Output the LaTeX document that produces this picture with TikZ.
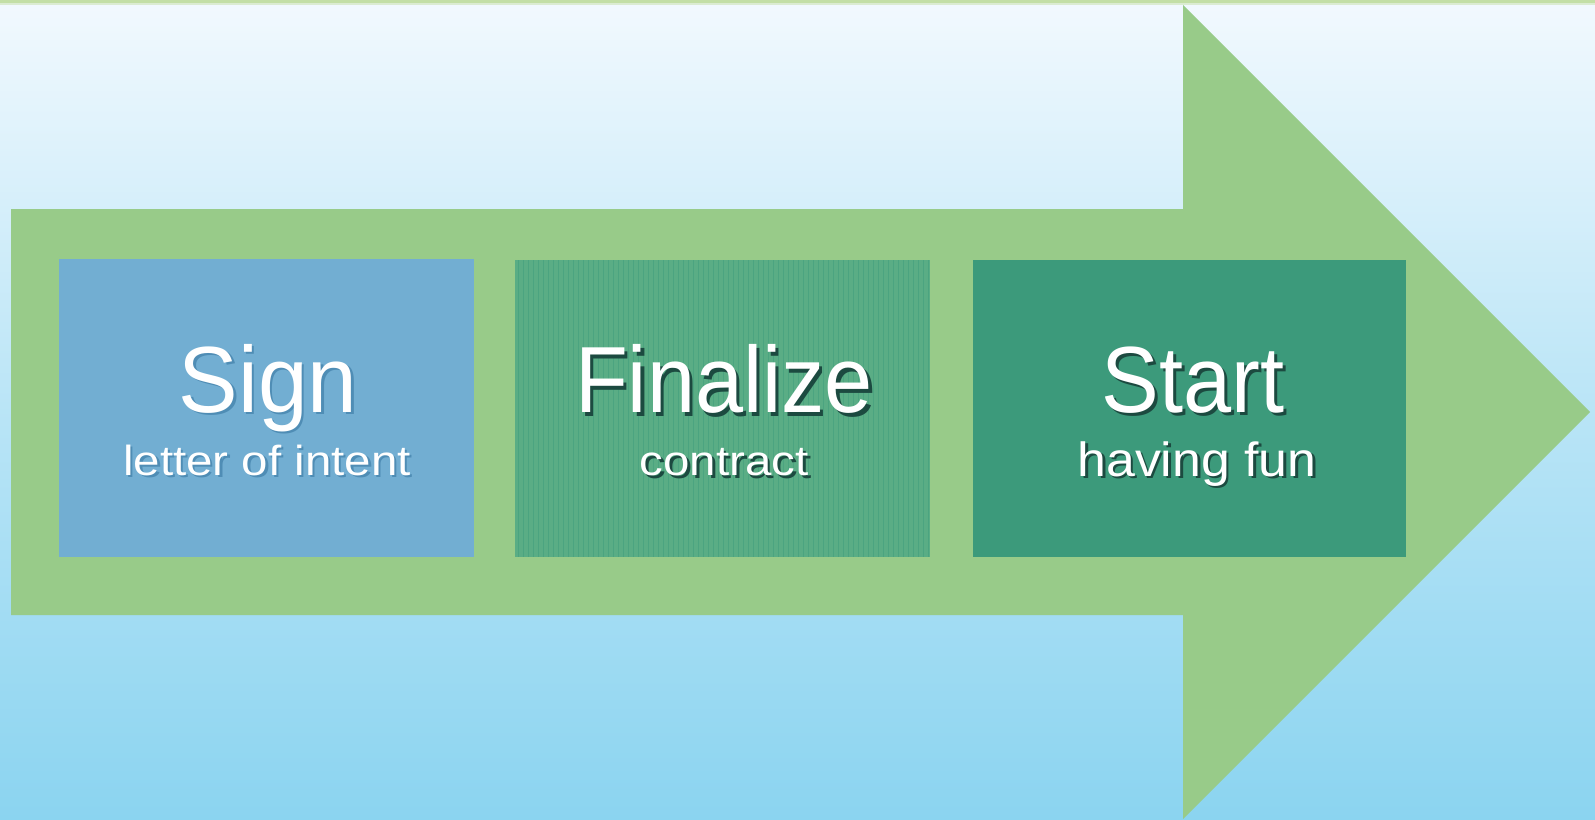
\documentclass[tikz,border=0pt]{standalone}
\usepackage{fontspec}
\setmainfont{Liberation Sans}
\definecolor{bgtop}{HTML}{F2F9FE}
\definecolor{bgbot}{HTML}{8BD4F0}
\definecolor{arrowgreen}{HTML}{98CB89}
\definecolor{topline}{HTML}{C3DFA6}
\definecolor{boxblue}{HTML}{72AED2}
\definecolor{boxmid}{HTML}{5AAD85}
\definecolor{boxdark}{HTML}{3C9A7B}
\definecolor{shadowgreen}{HTML}{1C4A40}
\definecolor{shadowblue}{HTML}{4F8DB5}
\newcommand{\shtxt}[3]{\rlap{\kern#3\raisebox{-#3}{\textcolor{#1}{#2}}}#2}
\tikzset{
  bigtxt/.style={text=white, font=\fontsize{94}{94}\selectfont, inner sep=0pt, anchor=base},
  smalltxt/.style={text=white, font=\fontsize{42}{42}\selectfont, inner sep=0pt, anchor=base},
  funtxt/.style={text=white, font=\fontsize{48}{48}\selectfont, inner sep=0pt, anchor=base}
}
\begin{document}
\begin{tikzpicture}[x=1pt,y=-1pt]
\useasboundingbox (0,0) rectangle (1595,819);
% background
\shade[top color=bgtop, bottom color=bgbot, middle color=bgtop!45!bgbot] (0,0) rectangle (1595,819);
\fill[topline] (0,0) rectangle (1595,3);
\fill[topline!50!bgtop] (0,3) rectangle (1595,5);
% arrow
\fill[arrowgreen] (11,209) -- (1183,209) -- (1183,5) -- (1590,412) -- (1183,819) -- (1183,615) -- (11,615) -- cycle;
% boxes
\fill[boxblue] (59,259) rectangle (474,557);
\fill[boxmid] (515,260) rectangle (930,557);
\fill[boxdark] (973,260) rectangle (1406,557);
\foreach \xx in {518,523,...,928} {
  \draw[boxdark!80!boxmid, line width=0.8pt, opacity=0.6] (\xx,260) -- (\xx,557);
}
% text nodes
\node[bigtxt] (s1) at (268,412) {\scalebox{0.95}[1]{\shtxt{shadowblue}{Sign}{2.5pt}}};
\node[smalltxt] (t1) at (267,475) {\scalebox{1.13}[1]{\shtxt{shadowblue}{letter of intent}{2pt}}};

\node[bigtxt] (s2) at (724,412.5) {\scalebox{0.92}[1]{\shtxt{shadowgreen}{Finalize}{3.5pt}}};
\node[smalltxt] (t2) at (724,475.5) {\scalebox{1.13}[1]{\shtxt{shadowgreen}{contract}{2.5pt}}};

\node[bigtxt] (s3) at (1193,412) {\scalebox{0.92}[1]{\shtxt{shadowgreen}{Start}{3.5pt}}};
\node[funtxt] (t3) at (1197,476) {\scalebox{1.08}[1]{\shtxt{shadowgreen}{having fun}{2.5pt}}};
\end{tikzpicture}
\end{document}
